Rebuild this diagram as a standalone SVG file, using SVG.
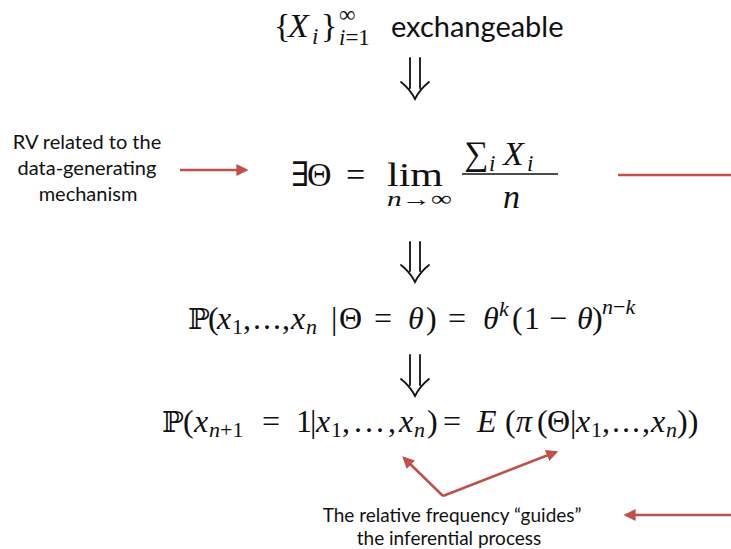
<svg xmlns="http://www.w3.org/2000/svg" width="731" height="549" viewBox="0 0 731 549">
<defs>
<style>
.m{font-family:"Liberation Serif","DejaVu Serif",serif;fill:#111}
.i{font-style:italic}
.s{font-family:Lato,"Liberation Sans",sans-serif;fill:#111}
.red{stroke:#c0504d;stroke-width:2.5;fill:none}
.dn{stroke:#111;stroke-width:1.8;fill:none;stroke-linecap:round}
</style>
<marker id="ah" viewBox="0 0 10 10" refX="8" refY="5" markerWidth="4.8" markerHeight="4.8" orient="auto-start-reverse" markerUnits="strokeWidth">
<path d="M0,0 L10,5 L0,10 z" fill="#c0504d"/>
</marker>
</defs>
<rect width="731" height="549" fill="#fff"/>

<g id="n1">
<text class="m" y="37" font-size="34"><tspan x="274">{</tspan><tspan x="288" class="i">X</tspan><tspan x="312" y="44" font-size="23" class="i">i</tspan><tspan x="321" y="37">}</tspan></text>
<text class="m" x="339" y="22" font-size="23">∞</text>
<text class="m" x="339" y="45" font-size="23"><tspan class="i">i</tspan>=1</text>
<text class="s" x="391" y="37" font-size="29">exchangeable</text>
</g>

<g id="n2">
<text class="m" y="186" font-size="34"><tspan x="291">∃</tspan><tspan x="307">Θ</tspan><tspan x="346">=</tspan></text>
<text class="m" x="387" y="186" font-size="34" textLength="56" lengthAdjust="spacingAndGlyphs">lim</text>
<text class="m" x="387" y="206" font-size="22" textLength="65" lengthAdjust="spacingAndGlyphs"><tspan class="i">n</tspan>→∞</text>
<text class="m" font-size="34"><tspan x="464" y="165">∑</tspan><tspan x="489" y="171" font-size="23" class="i">i</tspan><tspan x="503" y="165" class="i">X</tspan><tspan x="527" y="171" font-size="23" class="i">i</tspan></text>
<line x1="462" y1="174" x2="558" y2="174" stroke="#111" stroke-width="1.5"/>
<text class="m i" x="503" y="208" font-size="34">n</text>
</g>

<g id="n3">
<text class="m" font-size="32" y="329"><tspan x="188" font-size="29">ℙ</tspan><tspan x="208">(</tspan><tspan x="217" class="i">x</tspan><tspan x="232" y="334" font-size="22">1</tspan><tspan x="243" y="329">,</tspan><tspan x="253">.</tspan><tspan x="263">.</tspan><tspan x="273">.</tspan><tspan x="282">,</tspan><tspan x="291" class="i">x</tspan><tspan x="306" y="334" font-size="22" class="i">n</tspan><tspan x="331" y="329">|</tspan><tspan x="339">Θ</tspan><tspan x="374">=</tspan><tspan x="408" class="i">θ</tspan><tspan x="426">)</tspan><tspan x="448">=</tspan><tspan x="483" class="i">θ</tspan><tspan x="499" y="316" font-size="22" class="i">k</tspan><tspan x="512" y="329">(</tspan><tspan x="524">1</tspan><tspan x="549">−</tspan><tspan x="577" class="i">θ</tspan><tspan x="592">)</tspan><tspan x="602" y="314" font-size="22"><tspan class="i">n</tspan>−<tspan class="i">k</tspan></tspan></text>
</g>

<g id="n4">
<text class="m" font-size="32" y="432"><tspan x="162" font-size="29">ℙ</tspan><tspan x="183">(</tspan><tspan x="194" class="i">x</tspan><tspan x="209" y="437" font-size="22"><tspan class="i">n</tspan>+1</tspan><tspan x="262" y="432">=</tspan><tspan x="296">1</tspan><tspan x="310">|</tspan><tspan x="316" class="i">x</tspan><tspan x="331" y="437" font-size="22">1</tspan><tspan x="342" y="432">,</tspan><tspan x="354">.</tspan><tspan x="365">.</tspan><tspan x="376">.</tspan><tspan x="388">,</tspan><tspan x="399" class="i">x</tspan><tspan x="414" y="437" font-size="22" class="i">n</tspan><tspan x="427" y="432">)</tspan><tspan x="443">=</tspan><tspan x="477" class="i">E</tspan><tspan x="505">(</tspan><tspan x="516" class="i">π</tspan><tspan x="537">(</tspan><tspan x="547">Θ</tspan><tspan x="570">|</tspan><tspan x="576" class="i">x</tspan><tspan x="591" y="437" font-size="22">1</tspan><tspan x="602" y="432">,</tspan><tspan x="612">.</tspan><tspan x="622">.</tspan><tspan x="632">.</tspan><tspan x="642">,</tspan><tspan x="651" class="i">x</tspan><tspan x="666" y="437" font-size="22" class="i">n</tspan><tspan x="677" y="432">))</tspan></text>
</g>

<g id="n5">
<text class="s" font-size="20" text-anchor="middle"><tspan x="87" y="149">RV related to the</tspan><tspan x="87" y="175">data-generating</tspan><tspan x="88" y="201">mechanism</tspan></text>
</g>

<g id="n6">
<text class="s" font-size="19" text-anchor="middle"><tspan x="452" y="522">The relative frequency “guides”</tspan><tspan x="449" y="545">the inferential process</tspan></text>
</g>

<g id="connectors">
<path class="dn" d="M410,58 V88 M420,58 V88 M401,82 Q410,89 415,99 Q420,89 429,82"/>
<path class="dn" d="M410,242 V271 M420,242 V271 M401,265 Q410,272 415,282 Q420,272 429,265"/>
<path class="dn" d="M410,355 V385 M420,355 V385 M401,379 Q410,386 415,396 Q420,386 429,379"/>
<line class="red" x1="180" y1="170" x2="246" y2="170" marker-end="url(#ah)"/>
<line class="red" x1="618" y1="175" x2="731" y2="175"/>
<line class="red" x1="731" y1="515" x2="626" y2="515" marker-end="url(#ah)"/>
<line class="red" x1="443" y1="496" x2="404" y2="458" marker-end="url(#ah)"/>
<line class="red" x1="443" y1="496" x2="556" y2="452" marker-end="url(#ah)"/>
</g>
</svg>
